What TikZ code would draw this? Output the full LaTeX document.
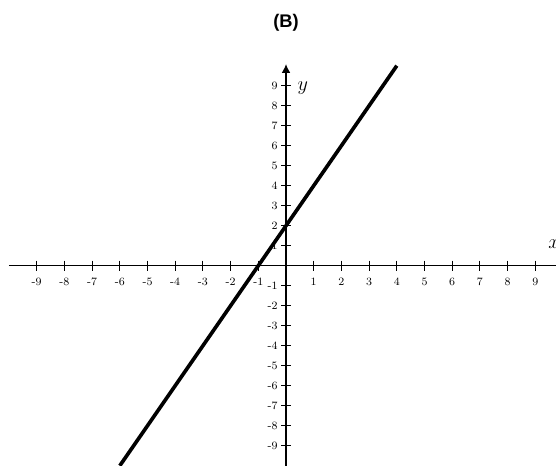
\documentclass[tikz,border=0pt]{standalone}
\usepackage{fontspec}
\newfontfamily\titlefont{Liberation Sans}
\usepackage{tikz}
\usetikzlibrary{arrows.meta}

\begin{document}
\begin{tikzpicture}[x=0.6925cm, y=0.5cm, font=\footnotesize]
  \useasboundingbox (-10.325,-9.965) rectangle (9.747,13.285);
  % Axes
  \coordinate (xmin) at (-10,0);
  \coordinate (xmax) at (10.5,0);
  \coordinate (ymin) at (0,-10.5);
  \coordinate (ymax) at (0,10.08);
  \draw[line width=0.9pt] (xmin) -- (xmax);
  \draw[line width=0.9pt, -{Latex[length=2.2mm, width=2.2mm]}] (ymin) -- (ymax);
  % Graduations
  \foreach \k in {1,...,9}{
    \draw[line width=0.7pt] (\k,0.25) -- (\k,-0.25);
    \draw[line width=0.7pt] (-\k,0.25) -- (-\k,-0.25);
    \node at (\k,-0.8) {\k};
    \node at (-\k,-0.8) {-\k};
    \draw[line width=0.7pt] (-0.18,\k) -- (0.18,\k);
    \draw[line width=0.7pt] (-0.18,-\k) -- (0.18,-\k);
    \node[anchor=east, inner sep=0.5pt] at (-0.27,\k) {\k};
    \node[anchor=east, inner sep=0.5pt] at (-0.27,-\k) {-\k};
  }
  % Droite
  \coordinate (lbas) at (-6,-10);
  \coordinate (lhaut) at (4,10);
  \draw[line width=2.6pt] (lbas) -- (lhaut);
  % Labels
  \node[font=\Large] (ylab) at (0.61,8.9) {$y$};
  \node[font=\Large, anchor=base west, inner sep=0pt] (xlab) at (9.46,0.885) {$x$};
  \node[font=\titlefont\bfseries\fontsize{13}{15}\selectfont] (titre) at (0,12.13) {(B)};
\end{tikzpicture}
\end{document}
